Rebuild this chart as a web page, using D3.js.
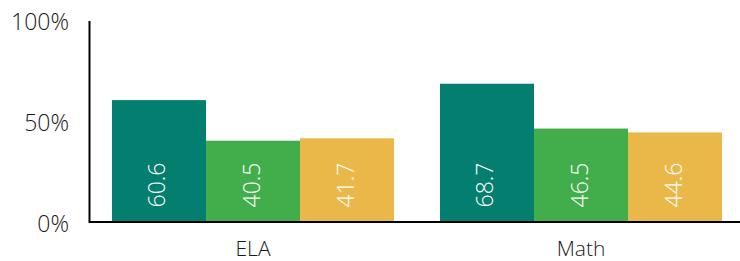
<!DOCTYPE html>
<html>
<head>
<meta charset="utf-8">
<script src="https://cdn.jsdelivr.net/npm/d3@7"></script>
<style>
  body { margin: 0; background: #fff; }
  text { font-family: "Open Sans", sans-serif; font-weight: 300; }
</style>
</head>
<body>
<div id="chart"></div>
<script>
const subjects = ['ELA', 'Math'];
const seriesNames = ['a', 'b', 'c'];
const seriesColors = ['#047e6e', '#41ae4b', '#eab848'];
const valuesA = [60.6, 68.7];
const valuesB = [40.5, 46.5];
const valuesC = [41.7, 44.6];
const yTicks = [0, 50, 100];

const width = 740, height = 261;
const margin = { top: 21, right: 0, bottom: 39, left: 89 };
const plotBottom = height - margin.bottom;

const svg = d3.select('#chart')
  .append('svg')
    .attr('width', width)
    .attr('height', height);

const x0 = d3.scaleBand()
  .domain(subjects)
  .range([margin.left, 745])
  .paddingInner(0.14)
  .paddingOuter(0.07);

const x1 = d3.scaleBand()
  .domain(seriesNames)
  .range([0, x0.bandwidth()]);

const y = d3.scaleLinear()
  .domain([0, 100])
  .range([plotBottom + 0.5, margin.top - 0.5]);

const color = d3.scaleOrdinal().domain(seriesNames).range(seriesColors);

const rows = [];
subjects.forEach((s, i) => {
  rows.push({ subject: s, key: 'a', value: valuesA[i] });
  rows.push({ subject: s, key: 'b', value: valuesB[i] });
  rows.push({ subject: s, key: 'c', value: valuesC[i] });
});

// bars
svg.append('g')
  .selectAll('rect')
  .data(rows)
  .join('rect')
    .attr('x', d => x0(d.subject) + x1(d.key))
    .attr('y', d => y(d.value))
    .attr('width', x1.bandwidth())
    .attr('height', d => y(0) - y(d.value))
    .attr('fill', d => color(d.key));

// value labels, rotated, sitting near the bottom of each bar
svg.append('g')
  .selectAll('text')
  .data(rows)
  .join('text')
    .attr('transform', d => `translate(${x0(d.subject) + x1(d.key) + x1.bandwidth() / 2 + 6.5},${y(0) - 15}) rotate(-90)`)
    .attr('fill', '#fff')
    .attr('font-size', 23)
    .attr('text-anchor', 'start')
    .text(d => d.value.toFixed(1));

// y axis
const yAxis = svg.append('g')
  .attr('transform', `translate(${margin.left},0)`)
  .call(d3.axisLeft(y).tickValues(yTicks).tickSize(0).tickPadding(20).tickFormat(d => d + '%'));
yAxis.select('.domain').attr('stroke', '#000').attr('stroke-width', 2);
yAxis.selectAll('text').attr('font-size', 23).attr('fill', '#1a1a1a').attr('dy', '0.4em');

// x axis
const xAxis = svg.append('g')
  .attr('transform', `translate(0,${plotBottom})`)
  .call(d3.axisBottom(x0).tickSize(0).tickPadding(19));
xAxis.select('.domain').attr('d', `M${margin.left},0H${width}`).attr('stroke', '#000').attr('stroke-width', 2);
xAxis.selectAll('text').attr('font-size', 21).attr('fill', '#1a1a1a');
</script>
</body>
</html>
